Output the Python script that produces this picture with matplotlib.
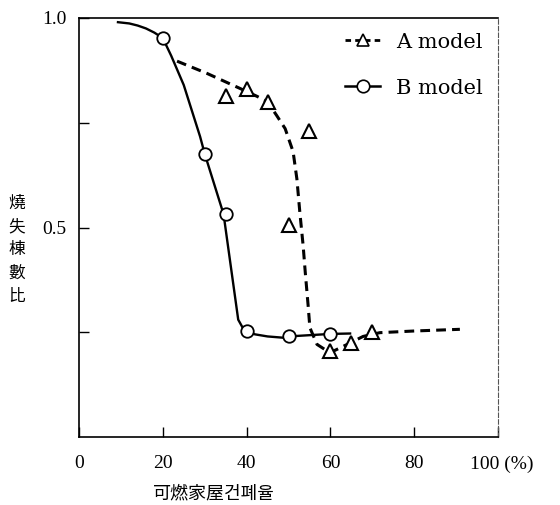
import numpy as np
import matplotlib.pyplot as plt
from matplotlib.lines import Line2D

# data
a_x = [35, 40, 45, 50, 55, 60, 65, 70]
a_y = [0.815, 0.83, 0.80, 0.505, 0.73, 0.205, 0.225, 0.25]
b_x = [20, 30, 35, 40, 50, 60]
b_y = [0.952, 0.676, 0.532, 0.254, 0.242, 0.247]

# hand drawn fit curves
a_curve_x = [23.4, 30.5, 38.4, 42.5, 45, 47.2, 49.2, 51.1, 52, 52.7, 53.5, 54,
             54.7, 55.1, 56.8, 59.9, 64, 67.8, 71.8, 80, 90.9]
a_curve_y = [0.897, 0.868, 0.832, 0.813, 0.80, 0.767, 0.736, 0.681, 0.616, 0.537,
             0.456, 0.393, 0.312, 0.261, 0.221, 0.201, 0.221, 0.24, 0.249, 0.253, 0.257]
b_curve_x = [9.3, 12, 14, 16, 18, 20, 22, 25, 28.9, 30, 34.5, 38, 39, 40, 42, 45,
             48.7, 50, 55, 60, 64.7]
b_curve_y = [0.99, 0.987, 0.982, 0.975, 0.965, 0.952, 0.91, 0.84, 0.717, 0.676, 0.532,
             0.28, 0.262, 0.252, 0.245, 0.24, 0.237, 0.24, 0.243, 0.246, 0.247]

xticks = [0, 20, 40, 60, 80, 100]
xticklabels = ['0', '20', '40', '60', '80', '']
yticks = [0.25, 0.5, 0.75, 1.0]
yticklabels = ['', '0.5', '', '1.0']

serif = 'Liberation Serif'
plt.rcParams['font.family'] = serif

fig = plt.figure(figsize=(5.6, 5.05), dpi=100)
ax = fig.add_axes([79/560, 68/505, 419/560, 419/505])

ax.plot(a_curve_x, a_curve_y, color='black', lw=2.2, dashes=(3.2, 2.0), zorder=2)
ax.plot(b_curve_x, b_curve_y, color='black', lw=1.7, zorder=2)
ax.plot(a_x, a_y, ls='none', marker='^', ms=10, mfc='white', mec='black', mew=1.5, zorder=3)
ax.plot(b_x, b_y, ls='none', marker='o', ms=9, mfc='white', mec='black', mew=1.3, zorder=3)

ax.set_xlim(0, 100)
ax.set_ylim(0, 1.0)
ax.set_xticks(xticks)
ax.set_xticklabels(xticklabels)
ax.set_yticks(yticks)
ax.set_yticklabels(yticklabels)
ax.tick_params(axis='both', direction='in', length=7, width=1, labelsize=14)
ax.tick_params(axis='x', pad=13)
ax.tick_params(axis='y', pad=9)
ax.text(93.2, -0.065, '100 (%)', fontsize=14, ha='left', va='center')

for s in ['left', 'bottom', 'top']:
    ax.spines[s].set_linewidth(1.2)
ax.spines['right'].set_linewidth(0.8)
ax.spines['right'].set_linestyle((0, (4, 2)))
ax.spines['right'].set_color('#555555')

handles = [
    Line2D([], [], color='black', lw=2.0, dashes=(2.0, 1.5), marker='^', ms=9,
           mfc='white', mec='black', mew=1.2),
    Line2D([], [], color='black', lw=1.8, marker='o', ms=9,
           mfc='white', mec='black', mew=1.2),
]
ax.legend(handles, ['A model', 'B model'], loc='upper left', bbox_to_anchor=(0.61, 0.99),
          frameon=False, prop={'family': 'DejaVu Serif', 'size': 15},
          handlelength=1.7, handletextpad=0.75, labelspacing=1.3, borderpad=0)

fig.text(17/560, 0.505, '燒\n失\n棟\n數\n比', ha='center', va='center',
         fontfamily=['Noto Sans CJK TC', 'DejaVu Sans'], fontsize=12, linespacing=1.5)
fig.text(214/560, 12/505, '可燃家屋건폐율', ha='center', va='center',
         fontfamily=['Noto Sans CJK KR', 'DejaVu Sans'], fontsize=13)

fig.savefig('out.png', dpi=100)
